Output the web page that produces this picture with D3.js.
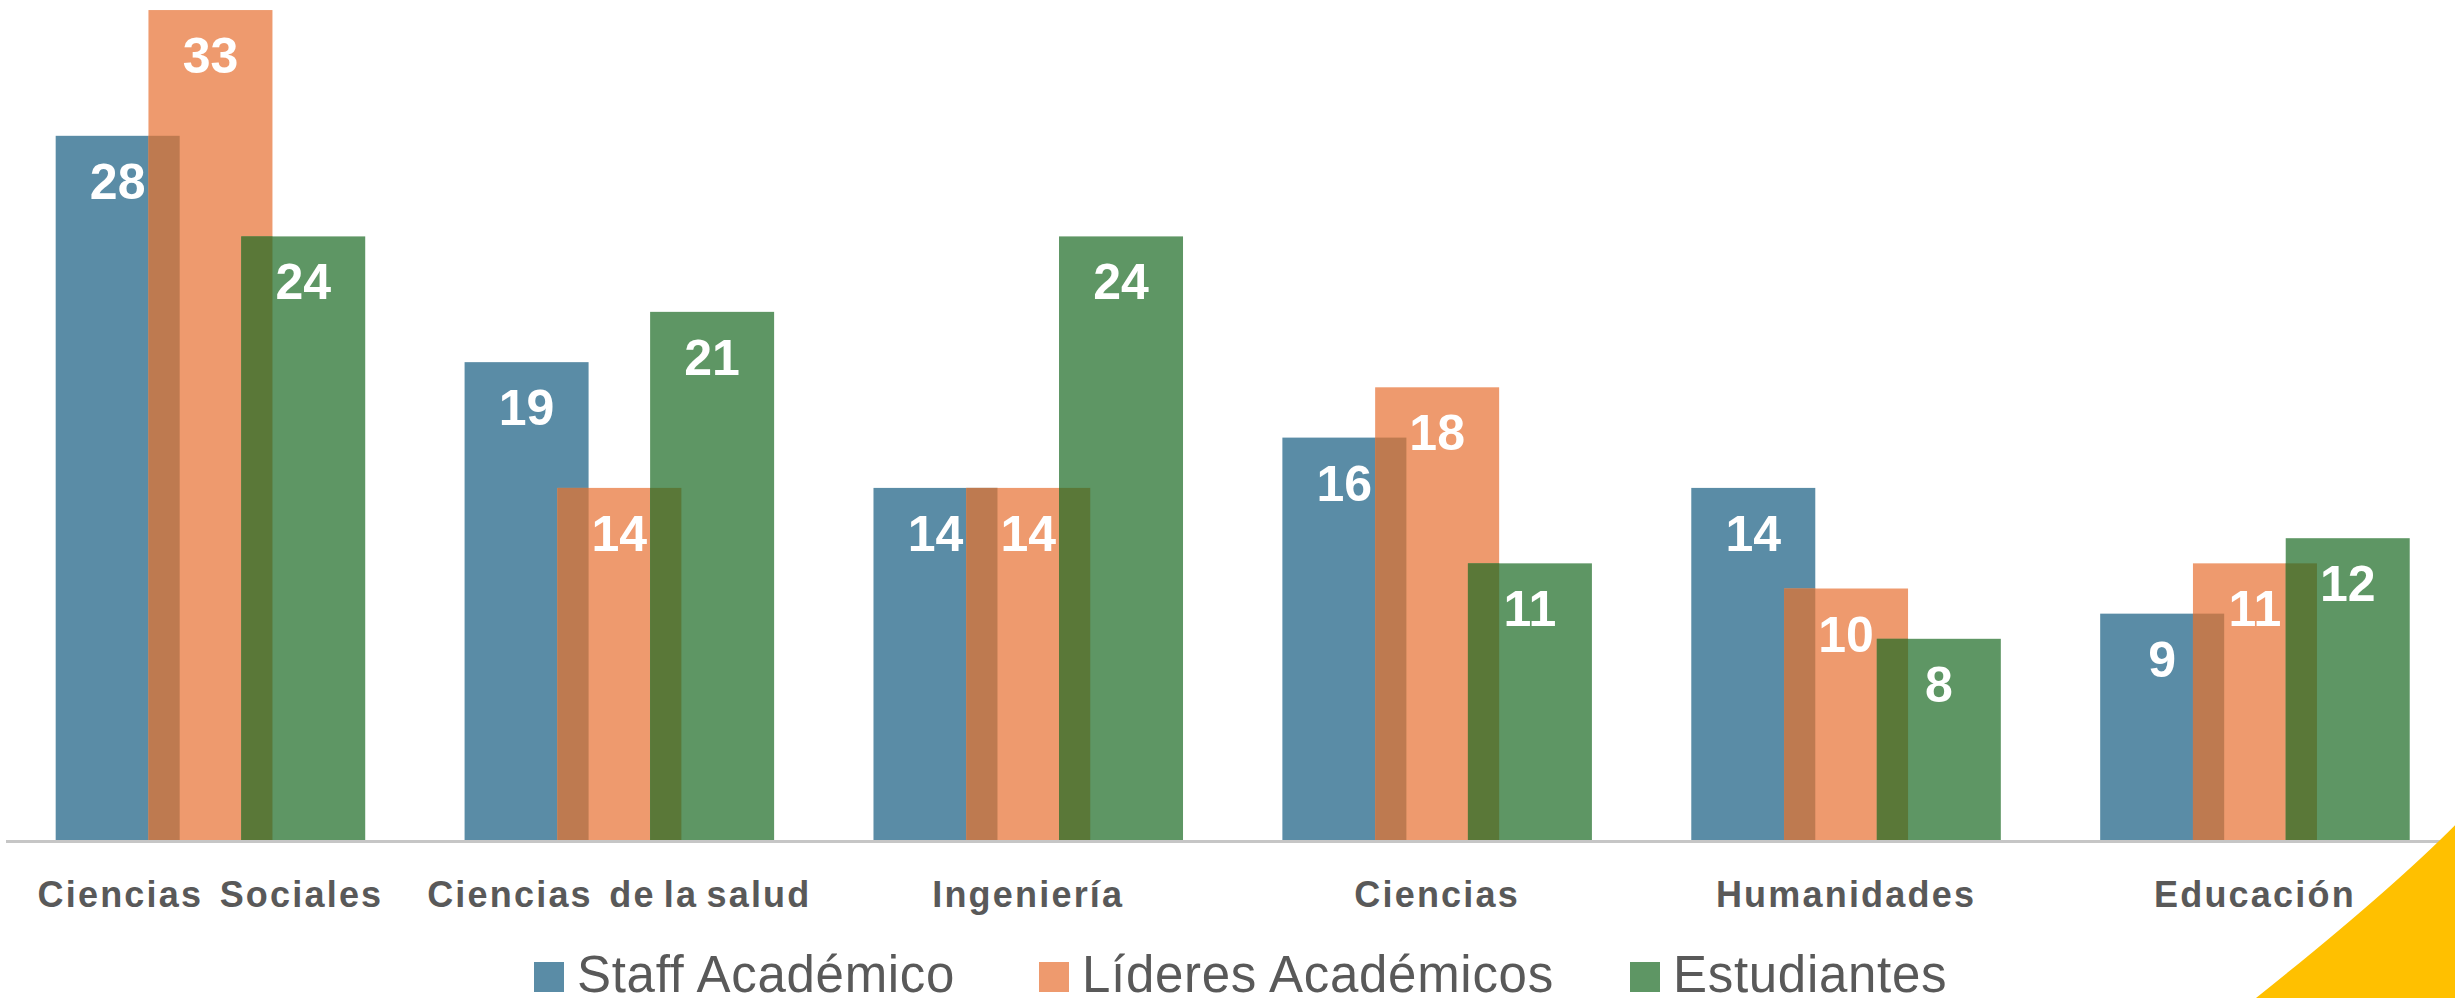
<!DOCTYPE html>
<html>
<head>
<meta charset="utf-8">
<script src="https://cdn.jsdelivr.net/npm/d3@7"></script>
<style>
  html, body { margin: 0; padding: 0; background: #ffffff; }
  svg { display: block; }
</style>
</head>
<body>
<svg id="chart" width="2455" height="998"></svg>
<script>
// ---- data ----
const categories = ["Ciencias  Sociales", "Ciencias  de la salud", "Ingeniería", "Ciencias", "Humanidades", "Educación"];
const seriesNames = ["Staff Académico", "Líderes Académicos", "Estudiantes"];
const staffAcademico = [28, 19, 14, 16, 14, 9];
const lideresAcademicos = [33, 14, 14, 18, 10, 11];
const estudiantes = [24, 21, 24, 11, 8, 12];
const seriesValues = [staffAcademico, lideresAcademicos, estudiantes];

// ---- styles ----
const colors = ["#5A8CA6", "#EE9A6E", "#5E9664"];
const overlapColors = ["#BE7A50", "#5A7838"]; // blue/orange, orange/green
const textGrey = "#595959";

const W = 2455, H = 998;
const baseY = 840;
const barW = 124;

const svg = d3.select("#chart");
svg.append("rect").attr("width", W).attr("height", H).attr("fill", "#ffffff");

const x0 = d3.scaleBand()
  .domain(categories)
  .range([6, 6 + 6 * 408.9])
  .paddingInner(0.243)
  .paddingOuter(0.1215);

const x1 = d3.scalePoint()
  .domain(seriesNames)
  .range([0, x0.bandwidth() - barW]);

const y = d3.scaleLinear().domain([0, 33.4]).range([baseY, 0]);

// bars
const gBars = svg.append("g");
seriesNames.forEach((s, si) => {
  gBars.selectAll(null)
    .data(categories.map((c, i) => ({ c, v: seriesValues[si][i] })))
    .enter().append("rect")
    .attr("x", d => x0(d.c) + x1(s))
    .attr("y", d => y(d.v))
    .attr("width", barW)
    .attr("height", d => baseY - y(d.v))
    .attr("fill", colors[si]);
});

// overlaps between adjacent series
for (let k = 0; k < 2; k++) {
  const a = seriesNames[k], b = seriesNames[k + 1];
  gBars.selectAll(null)
    .data(categories.map((c, i) => ({ c, v: Math.min(seriesValues[k][i], seriesValues[k + 1][i]) })))
    .enter().append("rect")
    .attr("x", d => x0(d.c) + x1(b))
    .attr("y", d => y(d.v))
    .attr("width", d => (x0(d.c) + x1(a) + barW) - (x0(d.c) + x1(b)))
    .attr("height", d => baseY - y(d.v))
    .attr("fill", overlapColors[k]);
}

// value labels
seriesNames.forEach((s, si) => {
  svg.append("g").selectAll("text")
    .data(categories.map((c, i) => ({ c, v: seriesValues[si][i] })))
    .enter().append("text")
    .attr("x", d => x0(d.c) + x1(s) + barW / 2)
    .attr("y", d => y(d.v) + 63)
    .attr("text-anchor", "middle")
    .attr("font-family", "'Liberation Sans', Arial, sans-serif")
    .attr("font-weight", "bold")
    .attr("font-size", 50)
    .attr("fill", "#ffffff")
    .text(d => d.v);
});

// x axis line
svg.append("line")
  .attr("x1", 6).attr("x2", W)
  .attr("y1", baseY + 1.5).attr("y2", baseY + 1.5)
  .attr("stroke", "#C6C6C6").attr("stroke-width", 3);

// category labels
svg.append("g").selectAll("text")
  .data(categories)
  .enter().append("text")
  .attr("x", d => x0(d) + x0.bandwidth() / 2)
  .attr("y", 906.5)
  .attr("text-anchor", "middle")
  .attr("font-family", "'Liberation Sans', Arial, sans-serif")
  .attr("font-weight", "bold")
  .attr("font-size", 36)
  .attr("letter-spacing", "2.2px")
  .attr("word-spacing", "-4px")
  .style("white-space", "pre")
  .attr("fill", textGrey)
  .text(d => d);

// legend
const legendX = [534, 1039, 1630];
const legend = svg.append("g");
seriesNames.forEach((s, si) => {
  legend.append("rect")
    .attr("x", legendX[si]).attr("y", 962)
    .attr("width", 30).attr("height", 30)
    .attr("fill", colors[si]);
  legend.append("text")
    .attr("x", legendX[si] + 43).attr("y", 992)
    .attr("font-family", "'Liberation Sans', Arial, sans-serif")
    .attr("font-size", 51)
    .attr("letter-spacing", "0.7px")
    .attr("fill", textGrey)
    .text(s);
});

// decorative yellow corner
svg.append("path")
  .attr("d", "M2462,818 Q2395,887 2256,998 L2455,998 Z")
  .attr("fill", "#FFC000");
</script>
</body>
</html>
